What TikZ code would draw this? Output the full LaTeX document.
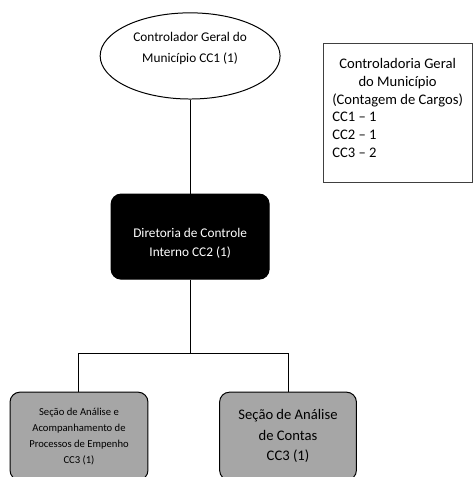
\documentclass[tikz,border=0pt]{standalone}
\usepackage{fontspec}
\setmainfont{Carlito}
\usetikzlibrary{shapes.geometric}
\definecolor{boxgray}{RGB}{166,166,166}
\definecolor{framegray}{RGB}{64,64,64}

\begin{document}
\begin{tikzpicture}[line width=0.75pt,
    chief/.style={draw, ellipse, inner sep=0pt, minimum width=4.76cm,
        minimum height=2.28cm, align=center, font=\fontsize{10}{16.3}\selectfont},
    office/.style={draw, rounded corners=7.5pt, fill=black, text=white,
        inner sep=0pt, minimum width=4.18cm, minimum height=2.25cm,
        align=center, font=\fontsize{10}{14.3}\selectfont},
    section/.style={draw, rounded corners=7.5pt, fill=boxgray,
        minimum height=2.33cm, align=center},
    tally/.style={draw=framegray, minimum width=3.94cm, minimum height=3.68cm,
        inner sep=0pt, font=\fontsize{11}{13.4}\selectfont}]
        \useasboundingbox (0,0) rectangle (12.54,12.62);

        \node[chief, text depth=13pt] (cgm) at (5.03,11.14)
              {Controlador Geral do\\Município CC1 (1)};
        \node[office] (dci) at (5.03,6.36)
              {\rule{0pt}{16.5pt}Diretoria de Controle\\Interno CC2 (1)};
        \node[section, minimum width=3.65cm, font=\fontsize{8}{12}\selectfont]
              (sec1) at (2.09,1.08)
              {Seção de Análise e\\Acompanhamento de\\Processos de Empenho\\CC3 (1)};
        \node[section, minimum width=3.62cm, font=\fontsize{11}{15.4}\selectfont]
              (sec2) at (7.62,1.08)
              {Seção de Análise\\de Contas\\CC3 (1)};
        \node[tally, text depth=10pt] (cnt) at (10.52,9.62)
              {\begin{tabular}[b]{@{}l@{}}
                 \multicolumn{1}{@{}c@{}}{Controladoria Geral}\\
                 \multicolumn{1}{@{}c@{}}{do Município}\\
                 (Contagem de Cargos)\\
                 CC1 – 1\\CC2 – 1\\CC3 – 2
               \end{tabular}};
        \coordinate (split) at (5.03,3.28);

        % Draw the edges
        \draw (cgm) -- (dci);
        \draw (dci) -- (split);
        \draw (split) -| (sec1);
        \draw (split) -| (sec2);
    \end{tikzpicture}
\end{document}
